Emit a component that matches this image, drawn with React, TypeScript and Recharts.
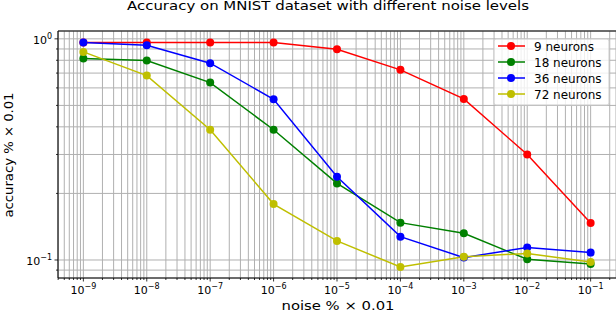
import { CartesianGrid, Line, LineChart, ReferenceLine, XAxis, YAxis } from "recharts";

// noise levels (x) and accuracy per network size (y)
const NOISE = [1e-9, 1e-8, 1e-7, 1e-6, 1e-5, 1e-4, 1e-3, 1e-2, 1e-1];
const ACC_9 = [0.962, 0.962, 0.962, 0.962, 0.898, 0.724, 0.535, 0.3, 0.147];
const ACC_18 = [0.815, 0.798, 0.634, 0.388, 0.222, 0.1475, 0.132, 0.1007, 0.096];
const ACC_36 = [0.962, 0.936, 0.776, 0.533, 0.238, 0.1275, 0.1025, 0.114, 0.108];
const ACC_72 = [0.873, 0.682, 0.388, 0.179, 0.122, 0.093, 0.1035, 0.107, 0.098];

const SERIES = [
  { key: "n9", name: "9 neurons", color: "#ff0000", values: ACC_9 },
  { key: "n18", name: "18 neurons", color: "#008000", values: ACC_18 },
  { key: "n36", name: "36 neurons", color: "#0000ff", values: ACC_36 },
  { key: "n72", name: "72 neurons", color: "#bfbf00", values: ACC_72 },
];

const X_EXPONENTS = [-10, -9, -8, -7, -6, -5, -4, -3, -2, -1];
const Y_EXPONENTS = [-2, -1, 0];
const MINOR_MULTIPLIERS = [1, 2, 3, 4, 5, 6, 7, 8, 9];

const X_DOMAIN: [number, number] = [Math.pow(10, -9.4), Math.pow(10, -0.6)];
const Y_DOMAIN: [number, number] = [0.0829, 1.085];

const TITLE = "Accuracy on MNIST dataset with different noise levels";
const X_LABEL = "noise % \u00d7 0.01";
const Y_LABEL = "accuracy % \u00d7 0.01";

const FONT = "'DejaVu Sans', sans-serif";

function logTicks(exps: number[], domain: [number, number]) {
  const out: number[] = [];
  for (const e of exps) {
    for (const m of MINOR_MULTIPLIERS) {
      const v = m * Math.pow(10, e);
      if (v >= domain[0] && v <= domain[1]) out.push(v);
    }
  }
  return out;
}

const X_TICKS = logTicks(X_EXPONENTS, X_DOMAIN);
const Y_TICKS = logTicks(Y_EXPONENTS, Y_DOMAIN);

function isMajor(v: number) {
  const l = Math.log10(v);
  return Math.abs(l - Math.round(l)) < 1e-9;
}

function expLabel(v: number) {
  const e = Math.round(Math.log10(v));
  return e < 0 ? `\u2212${-e}` : `${e}`;
}

function XTick(props: any) {
  const { x, y, payload } = props;
  const major = isMajor(payload.value);
  return (
    <g>
      <line x1={x} x2={x} y1={y} y2={y + (major ? 3.5 : 2)} stroke="#000" strokeWidth={0.8} />
      {major && (
        <text x={x} y={y + 16} textAnchor="middle" fontSize={11} fontFamily={FONT} fill="#000">
          <tspan>10</tspan>
          <tspan dy={-5} fontSize={8}>{expLabel(payload.value)}</tspan>
        </text>
      )}
    </g>
  );
}

function YTick(props: any) {
  const { x, y, payload } = props;
  const major = isMajor(payload.value);
  return (
    <g>
      <line x1={x - (major ? 3.5 : 2)} x2={x} y1={y} y2={y} stroke="#000" strokeWidth={0.8} />
      {major && (
        <text x={x - 6} y={y + 5} textAnchor="end" fontSize={11} fontFamily={FONT} fill="#000">
          <tspan>10</tspan>
          <tspan dy={-5} fontSize={8}>{expLabel(payload.value)}</tspan>
        </text>
      )}
    </g>
  );
}

export default function App() {
  const rows = NOISE.map((noise, i) => {
    const row: Record<string, number> = { noise };
    for (const s of SERIES) row[s.key] = s.values[i];
    return row;
  });

  return (
    <div style={{ position: "absolute", left: 0, top: 0, width: 616, height: 312, background: "#fff" }}>
      <LineChart width={616} height={312} data={rows} margin={{ top: 31, right: 0, bottom: 4, left: 0 }}>
        <CartesianGrid stroke="#b0b0b0" strokeWidth={1} />
        <XAxis
          dataKey="noise"
          type="number"
          scale="log"
          domain={X_DOMAIN}
          allowDataOverflow
          ticks={X_TICKS}
          interval={0}
          height={30}
          tickSize={0}
          tickMargin={0}
          tickLine={false}
          axisLine={{ stroke: "#000", strokeWidth: 1 }}
          tick={<XTick />}
        />
        <YAxis
          type="number"
          scale="log"
          domain={Y_DOMAIN}
          allowDataOverflow
          ticks={Y_TICKS}
          interval={0}
          width={58}
          tickSize={0}
          tickMargin={0}
          tickLine={false}
          axisLine={{ stroke: "#000", strokeWidth: 1 }}
          tick={<YTick />}
        />
        <ReferenceLine y={Y_DOMAIN[1]} stroke="#000" strokeWidth={1} />
        {SERIES.map((s) => (
          <Line
            key={s.key}
            dataKey={s.key}
            type="linear"
            stroke={s.color}
            strokeWidth={1.5}
            dot={{ r: 4, fill: s.color, stroke: s.color, strokeWidth: 0 }}
            activeDot={false}
            isAnimationActive={false}
          />
        ))}
      </LineChart>

      <svg
        width={616}
        height={312}
        style={{ position: "absolute", left: 0, top: 0, pointerEvents: "none" }}
        fontFamily={FONT}
      >
        <text x={328} y={10} textAnchor="middle" fontSize={12} textLength={402} lengthAdjust="spacingAndGlyphs">
          {TITLE}
        </text>
        <text x={338} y={310} textAnchor="middle" fontSize={12} textLength={113} lengthAdjust="spacingAndGlyphs">
          {X_LABEL}
        </text>
        <text
          x={0}
          y={0}
          transform="translate(13,155) rotate(-90)"
          textAnchor="middle"
          fontSize={12}
          textLength={125}
          lengthAdjust="spacingAndGlyphs"
        >
          {Y_LABEL}
        </text>

        <rect x={494} y={39} width={115} height={66} rx={2} fill="rgba(255,255,255,0.8)" stroke="#cccccc" />
        {SERIES.map((s, i) => {
          const cy = 46 + i * 16;
          return (
            <g key={s.key}>
              <line x1={498} x2={525} y1={cy} y2={cy} stroke={s.color} strokeWidth={1.5} />
              <circle cx={511} cy={cy} r={4} fill={s.color} />
              <text x={534} y={cy + 4.5} fontSize={12}>
                {s.name}
              </text>
            </g>
          );
        })}
      </svg>
    </div>
  );
}
